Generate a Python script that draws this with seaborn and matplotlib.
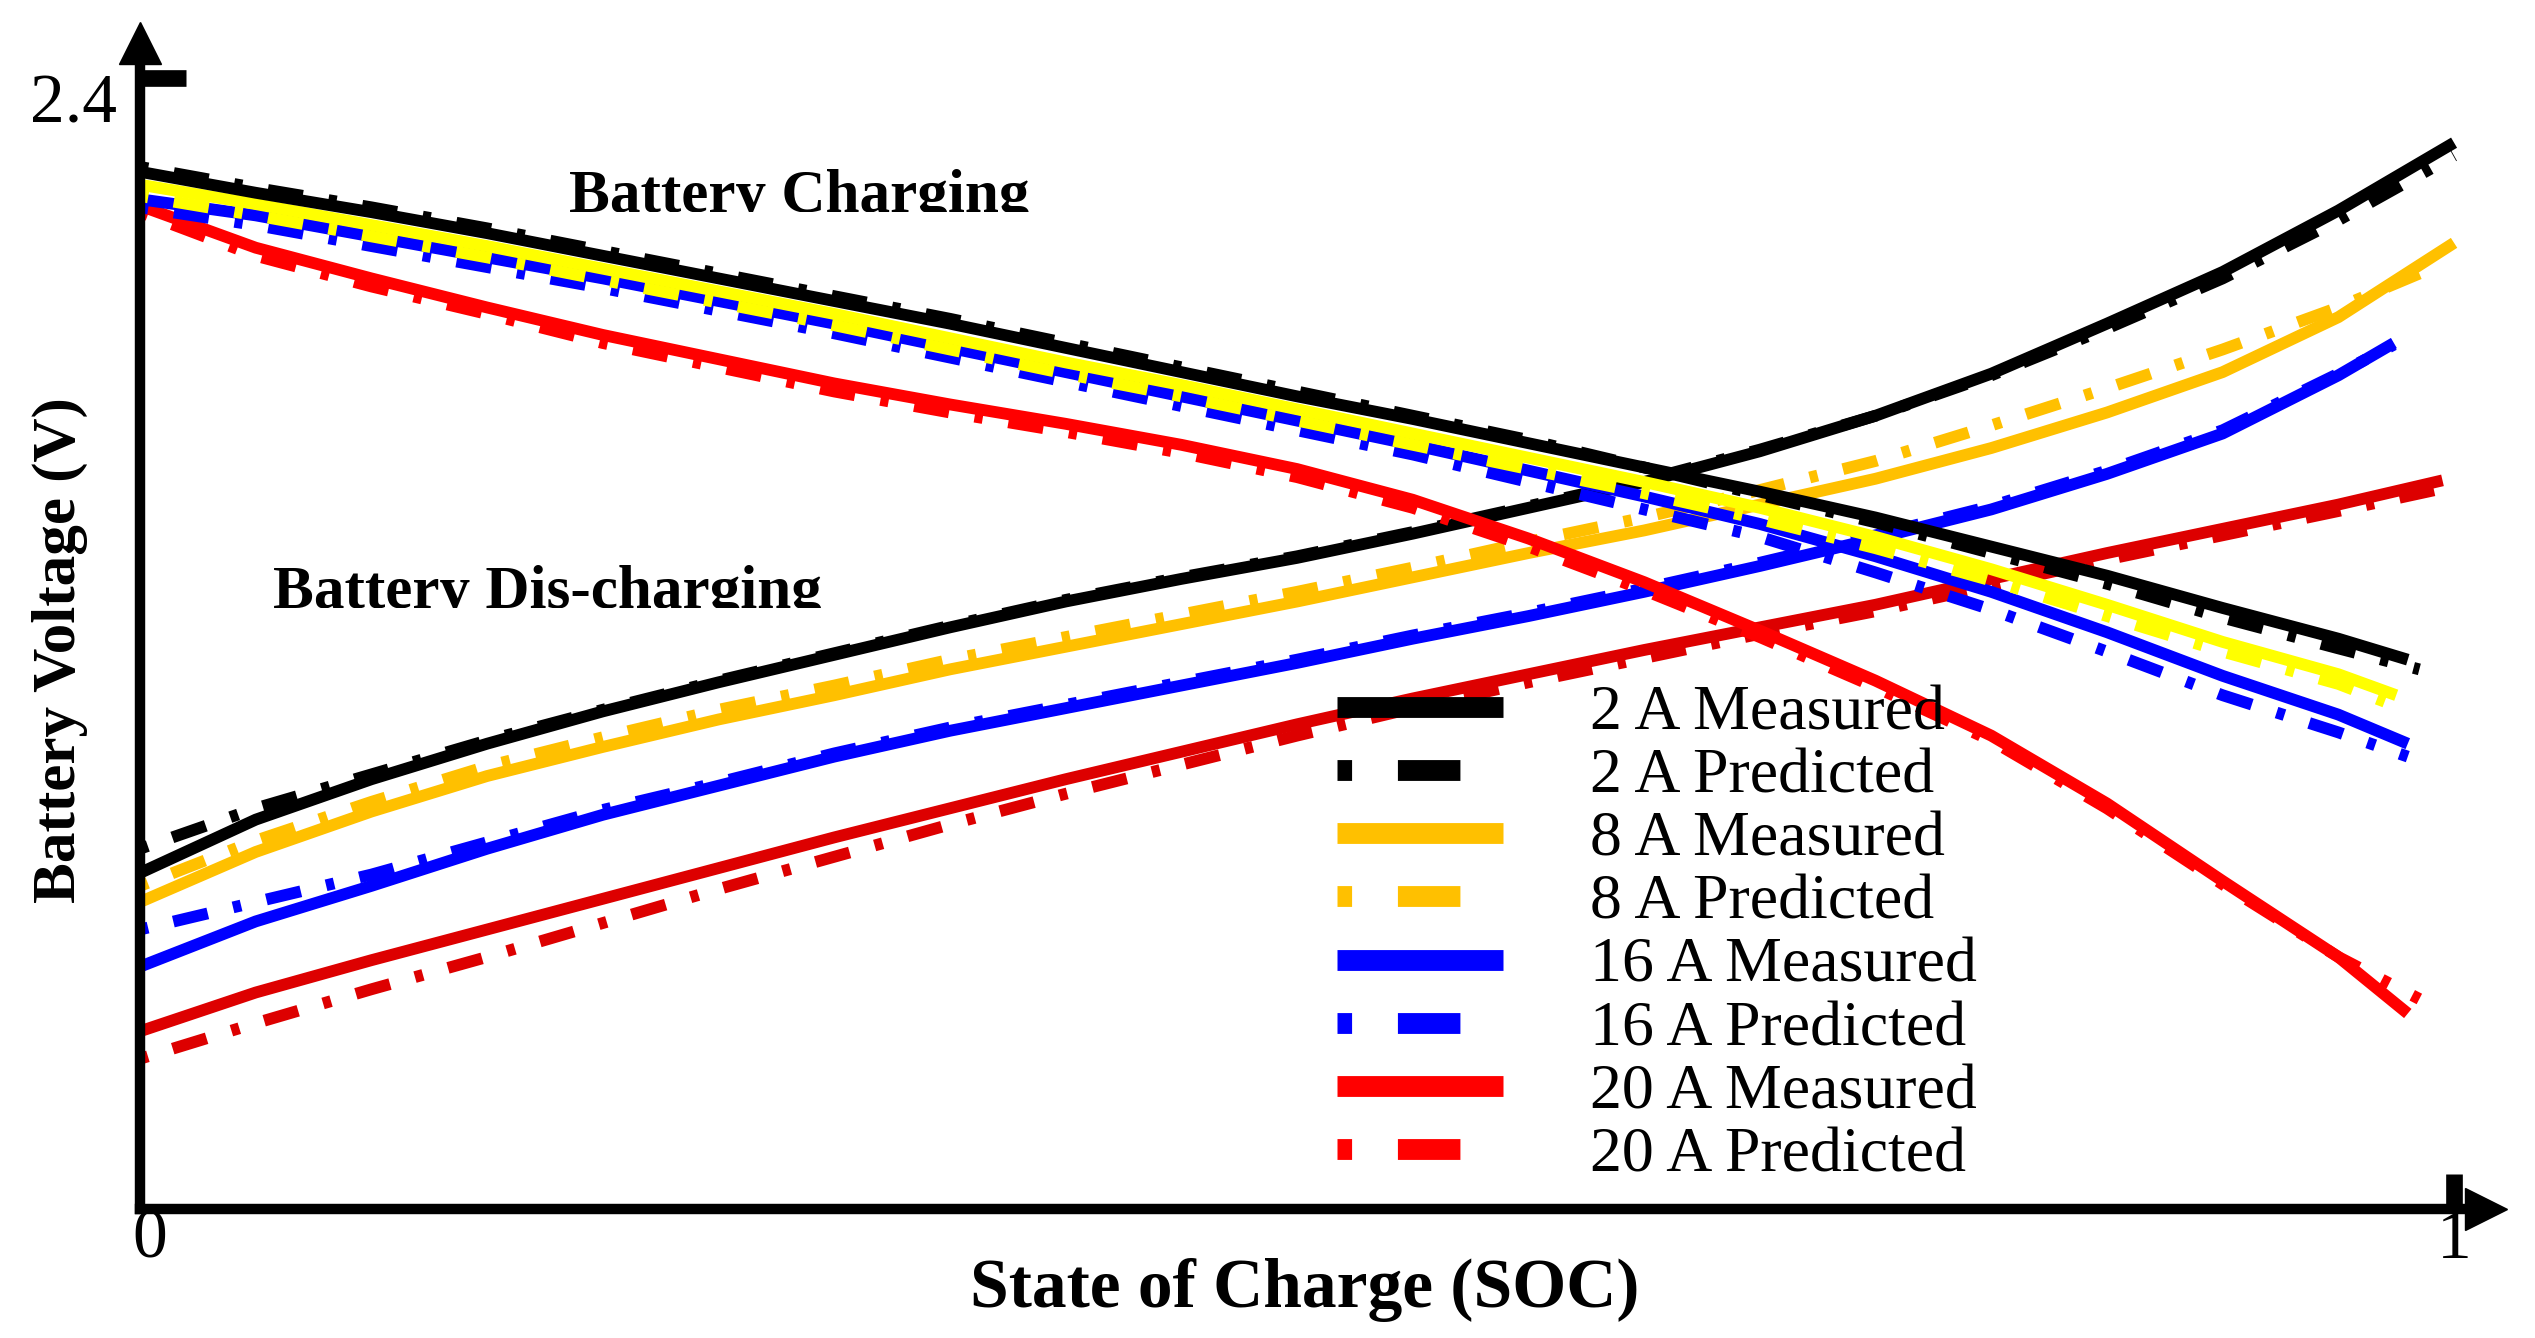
import numpy as np
import pandas as pd
import matplotlib
matplotlib.use('Agg')
import matplotlib.pyplot as plt
import seaborn as sns
from matplotlib.patches import Rectangle
from matplotlib.transforms import ScaledTranslation

# ---- data (SOC, volts) ----
soc_chg = [0, 0.05, 0.1, 0.15, 0.2, 0.25, 0.3, 0.35, 0.4, 0.45, 0.5,
           0.55, 0.6, 0.65, 0.7, 0.75, 0.8, 0.85, 0.9, 0.95, 0.98]
soc_dis = [0, 0.05, 0.1, 0.15, 0.2, 0.25, 0.3, 0.35, 0.4, 0.45, 0.5,
           0.55, 0.6, 0.65, 0.7, 0.75, 0.8, 0.85, 0.9, 0.95, 1.0]

# charging, measured
chg_2a = [2.342, 2.329, 2.317, 2.304, 2.290, 2.276, 2.262, 2.248, 2.233, 2.218, 2.203,
          2.189, 2.174, 2.159, 2.144, 2.128, 2.110, 2.092, 2.072, 2.053, 2.040]
chg_8a = [2.334, 2.322, 2.309, 2.296, 2.282, 2.268, 2.254, 2.239, 2.224, 2.210, 2.195,
          2.180, 2.165, 2.150, 2.134, 2.116, 2.096, 2.074, 2.051, 2.031, 2.018]
chg_16a = [2.325, 2.315, 2.302, 2.289, 2.276, 2.262, 2.248, 2.233, 2.218, 2.203, 2.188,
           2.173, 2.157, 2.141, 2.124, 2.104, 2.082, 2.057, 2.030, 2.006, 1.988]
chg_20a = [2.321, 2.295, 2.276, 2.258, 2.241, 2.226, 2.211, 2.198, 2.186, 2.173, 2.158,
           2.139, 2.115, 2.088, 2.058, 2.027, 1.993, 1.951, 1.903, 1.856, 1.821]
# charging, predicted
chg_2a_p = [2.345, 2.332, 2.320, 2.307, 2.293, 2.279, 2.265, 2.251, 2.236, 2.221, 2.206,
            2.191, 2.176, 2.159, 2.142, 2.125, 2.106, 2.087, 2.066, 2.047, 2.034]
chg_8a_p = [2.327, 2.315, 2.302, 2.289, 2.275, 2.261, 2.247, 2.232, 2.217, 2.203, 2.188,
            2.173, 2.158, 2.143, 2.127, 2.109, 2.089, 2.067, 2.045, 2.025, 2.014]
chg_16a_p = [2.320, 2.309, 2.296, 2.283, 2.270, 2.256, 2.242, 2.227, 2.212, 2.197, 2.182,
             2.167, 2.150, 2.133, 2.116, 2.094, 2.071, 2.045, 2.018, 1.995, 1.980]
chg_20a_p = [2.317, 2.290, 2.271, 2.254, 2.236, 2.221, 2.206, 2.193, 2.181, 2.168, 2.153,
             2.134, 2.110, 2.083, 2.054, 2.023, 1.990, 1.948, 1.901, 1.856, 1.830]

# discharging, measured
dis_2a = [1.908, 1.941, 1.966, 1.988, 2.008, 2.026, 2.043, 2.060, 2.076, 2.090, 2.103,
          2.118, 2.134, 2.150, 2.169, 2.191, 2.217, 2.248, 2.280, 2.318, 2.360]
dis_8a = [1.890, 1.921, 1.946, 1.968, 1.986, 2.003, 2.018, 2.034, 2.048, 2.062, 2.076,
          2.091, 2.106, 2.120, 2.136, 2.152, 2.171, 2.193, 2.218, 2.252, 2.298]
dis_16a = [1.850, 1.878, 1.900, 1.923, 1.944, 1.962, 1.980, 1.996, 2.010, 2.024, 2.038,
           2.053, 2.067, 2.082, 2.098, 2.115, 2.133, 2.155, 2.180, 2.216, 2.236]
dis_20a = [1.810, 1.834, 1.854, 1.873, 1.892, 1.911, 1.930, 1.948, 1.966, 1.983, 2.000,
           2.016, 2.031, 2.046, 2.060, 2.074, 2.090, 2.106, 2.121, 2.136, 2.151]
# discharging, predicted
dis_2a_p = [1.923, 1.948, 1.969, 1.990, 2.009, 2.027, 2.044, 2.061, 2.077, 2.091, 2.104,
            2.119, 2.135, 2.151, 2.170, 2.191, 2.216, 2.245, 2.276, 2.312, 2.352]
dis_8a_p = [1.900, 1.928, 1.952, 1.974, 1.992, 2.009, 2.024, 2.040, 2.054, 2.068, 2.082,
            2.097, 2.113, 2.128, 2.145, 2.163, 2.185, 2.208, 2.232, 2.258, 2.282]
dis_16a_p = [1.873, 1.890, 1.907, 1.927, 1.947, 1.964, 1.982, 1.998, 2.012, 2.026, 2.040,
             2.055, 2.069, 2.084, 2.100, 2.117, 2.135, 2.157, 2.182, 2.217, 2.235]
dis_20a_p = [1.793, 1.815, 1.836, 1.856, 1.877, 1.898, 1.918, 1.938, 1.957, 1.975, 1.993,
             2.010, 2.026, 2.041, 2.056, 2.070, 2.086, 2.102, 2.117, 2.132, 2.146]

labels = ['2 A Measured', '2 A Predicted', '8 A Measured', '8 A Predicted',
          '16 A Measured', '16 A Predicted', '20 A Measured', '20 A Predicted']

sns.set_style('ticks', rc={'axes.edgecolor': 'black', 'text.color': 'black',
                           'axes.labelcolor': 'black', 'xtick.color': 'black',
                           'ytick.color': 'black'})
plt.rcParams['font.family'] = ['Liberation Serif', 'DejaVu Serif']

fig = plt.figure(figsize=(25.35, 13.38), dpi=100)
ax = fig.add_axes([0.05523, 0.09641, 0.92544, 0.87145])

pred_ls = (0, (0.7, 2.2, 3.0, 2.2))
lw = 8.5


def draw(x, y, color, predicted=False):
    sns.lineplot(x=x, y=y, ax=ax, color=color, linewidth=lw, sort=False)
    ln = ax.lines[-1]
    ln.set_solid_capstyle('butt')
    ln.set_solid_joinstyle('round')
    if predicted:
        ln.set_linestyle(pred_ls)
        ln.set_dash_capstyle('butt')
    return ln


def ends_at(grid, last):
    return grid[:-1] + [last]


# discharging
h_2m = draw(soc_dis, dis_2a, 'black')
h_2p = draw(soc_dis, dis_2a_p, 'black', True)
h_8m = draw(soc_dis, dis_8a, '#FFC000')
h_8p = draw(ends_at(soc_dis, 0.99), dis_8a_p, '#FFC000', True)
h_16m = draw(ends_at(soc_dis, 0.974), dis_16a, '#0000FF')
h_16p = draw(ends_at(soc_dis, 0.974), dis_16a_p, '#0000FF', True)
draw(ends_at(soc_dis, 0.995), dis_20a, '#DD0000')
draw(ends_at(soc_dis, 0.995), dis_20a_p, '#DD0000', True)

# charging
h_20m = draw(soc_chg, chg_20a, '#FF0000')
h_20p = draw(ends_at(soc_chg, 0.985), chg_20a_p, '#FF0000', True)
draw(soc_chg, chg_16a, '#0000FF')
draw(soc_chg, chg_16a_p, '#0000FF', True)
draw(ends_at(soc_chg, 0.975), chg_8a, '#FFFF00')
draw(ends_at(soc_chg, 0.97), chg_8a_p, '#FFFF00', True)
draw(soc_chg, chg_2a, 'black')
draw(ends_at(soc_chg, 0.985), chg_2a_p, 'black', True)

ax.set_xlim(0, 1.0138)
ax.set_ylim(1.7, 2.4217)

# axes styling
sns.despine(ax=ax)
for side in ['left', 'bottom']:
    ax.spines[side].set_linewidth(7.5)
ax.plot(1, 0, marker='>', ms=30, color='black', transform=ax.transAxes, clip_on=False)
ax.plot(0, 1, marker='^', ms=30, color='black', transform=ax.transAxes, clip_on=False)

ax.set_xticks([0, 1])
ax.set_xticklabels(['0', '1'])
ax.set_yticks([2.4])
ax.set_yticklabels(['2.4'])
ax.tick_params(axis='y', direction='in', length=33, width=12, pad=16.5, labelsize=50)
ax.tick_params(axis='x', direction='in', length=25, width=12, pad=0, labelsize=50)
ax.xaxis.get_major_ticks()[0].tick1line.set_visible(False)
for lab in ax.get_yticklabels():
    lab.set_transform(lab.get_transform() + ScaledTranslation(0, -0.2, fig.dpi_scale_trans))
lab0 = ax.get_xticklabels()[0]
lab0.set_transform(lab0.get_transform() + ScaledTranslation(0.1, 0, fig.dpi_scale_trans))

ax.set_xlabel('State of Charge (SOC)', fontsize=50, fontweight='bold')
ax.xaxis.set_label_coords(0.4966, -0.042)
ax.set_ylabel('Battery Voltage (V)', fontsize=44, fontweight='bold')
ax.yaxis.set_label_coords(-0.022, 0.4794)

# region labels, bottoms cut off as in the original
t1 = ax.text(0.285, 2.317, 'Battery Charging', fontsize=44, fontweight='bold',
             ha='center', va='baseline', clip_on=True)
t1.set_clip_path(Rectangle((0, 2.317), 1, 0.2, transform=ax.transData))
t2 = ax.text(0.176, 2.072, 'Battery Dis-charging', fontsize=44, fontweight='bold',
             ha='center', va='baseline', clip_on=True)
t2.set_clip_path(Rectangle((0, 2.072), 1, 0.2, transform=ax.transData))

handles = [h_2m, h_2p, h_8m, h_8p, h_16m, h_16p, h_20m, h_20p]
leg = ax.legend(handles, labels, loc='center left',
                bbox_to_anchor=(1337 / 2535, 1 - 935 / 1338), bbox_transform=fig.transFigure,
                frameon=False, prop={'family': 'Liberation Serif', 'size': 46},
                handlelength=2.6, handletextpad=1.36, labelspacing=0.07,
                borderpad=0, borderaxespad=0)
for ln in leg.get_lines():
    ln.set_linewidth(15)

fig.savefig('out.png', dpi=100)
